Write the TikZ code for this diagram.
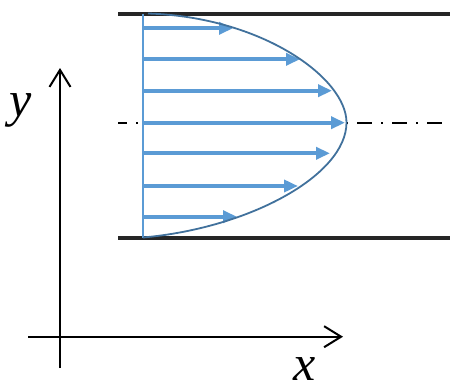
\documentclass[tikz,border=0pt]{standalone}
\usepackage{fontspec}
\setmainfont{Liberation Serif}
\usetikzlibrary{arrows.meta}
\definecolor{flowblue}{HTML}{5B9BD5}
\definecolor{curveblue}{HTML}{41719C}
\begin{document}
\begin{tikzpicture}[x=1pt,y=-1pt,
  wall/.style={line width=4pt,black!85},
  axis/.style={line width=2.2pt,black,-{Straight Barb[length=17pt,width=21pt,line width=2pt]}},
  vel/.style={line width=4pt,flowblue,-{Triangle[length=14pt,width=12pt]}},
  lbl/.style={font=\fontsize{50}{60}\selectfont\itshape,inner sep=0pt,anchor=base}]
\useasboundingbox (0,0) rectangle (450,391);
% walls
\coordinate (tw1) at (118,13.5); \coordinate (tw2) at (450,13.5);
\coordinate (bw1) at (118,237.5); \coordinate (bw2) at (450,237.5);
\draw[wall] (tw1) -- (tw2);
\draw[wall] (bw1) -- (bw2);
% centerline
\coordinate (c1) at (118,123); \coordinate (c2) at (450,123);
\draw[line width=1.8pt,black,dash pattern=on 15pt off 9pt on 2pt off 9pt,dash phase=6pt] (c1) -- (c2);
% velocity arrows
\foreach \yy/\xx in {28.3/233,59.3/300,90.7/332,122.7/345,153.3/330,186/298,216.7/237}{
  \coordinate (a) at (143,\yy); \coordinate (b) at (\xx,\yy);
  \draw[vel] (a) -- (b);
}
% base line
\coordinate (p1) at (143,13.5); \coordinate (p2) at (143,237.5);
\draw[line width=2pt,flowblue] (p1) -- (p2);
% profile curve
\coordinate (q0) at (143,237.5);
\coordinate (q1) at (346.5,122.5);
\coordinate (q2) at (148,13.5);
\draw[line width=1.8pt,curveblue] (q0) .. controls (250,228) and (346.5,175) .. (q1)
  .. controls (346.5,78) and (262,17) .. (q2);
% axes
\coordinate (o1) at (60,368); \coordinate (o2) at (60,68);
\coordinate (h1) at (28,336.7); \coordinate (h2) at (343,336.7);
\draw[axis] (o1) -- (o2);
\draw[axis] (h1) -- (h2);
\node[lbl] (ylab) at (21,116) {y};
\node[lbl] (xlab) at (305,380) {x};
\end{tikzpicture}
\end{document}
